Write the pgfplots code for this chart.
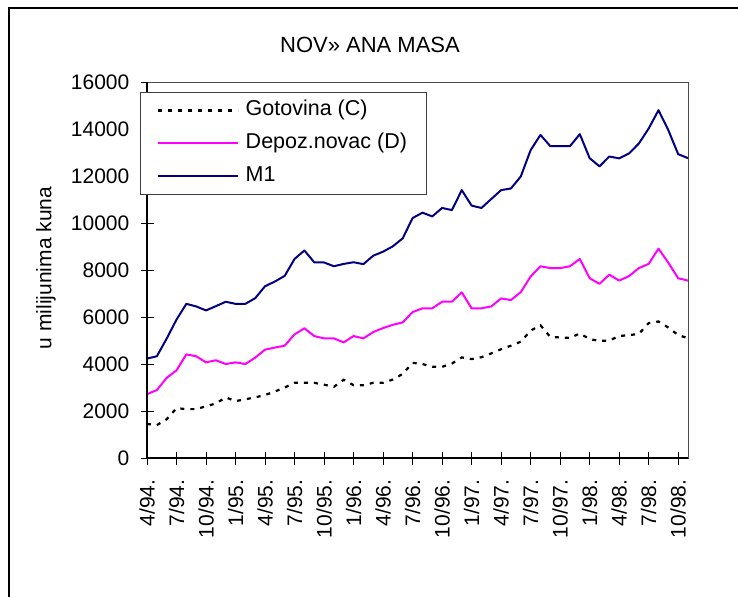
\documentclass[border=0pt]{standalone}
\usepackage{fontspec}
\setmainfont{Liberation Sans}
\usepackage{pgfplots}
\usepackage{pgfplotstable}
\pgfplotsset{compat=1.18}
\definecolor{navyM}{RGB}{0,0,128}
\definecolor{magD}{RGB}{255,0,255}
\pgfplotstableread{
m C D M1
0 1450 2720 4230
1 1400 2890 4330
2 1650 3410 5080
3 2120 3730 5890
4 2080 4410 6560
5 2080 4330 6450
6 2200 4070 6280
7 2320 4160 6460
8 2580 4000 6650
9 2420 4070 6560
10 2500 4000 6560
11 2580 4270 6800
12 2680 4610 7310
13 2830 4700 7510
14 3000 4780 7750
15 3200 5260 8470
16 3200 5520 8830
17 3200 5190 8330
18 3120 5090 8320
19 3030 5090 8160
20 3330 4920 8260
21 3100 5190 8330
22 3100 5090 8250
23 3200 5360 8610
24 3200 5530 8780
25 3340 5670 9010
26 3580 5770 9350
27 4050 6210 10210
28 4000 6370 10440
29 3880 6370 10280
30 3880 6650 10640
31 4020 6650 10550
32 4280 7050 11400
33 4210 6370 10740
34 4290 6370 10640
35 4450 6450 11020
36 4630 6790 11400
37 4780 6720 11470
38 4950 7060 11980
39 5420 7720 13100
40 5650 8160 13750
41 5150 8080 13270
42 5130 8080 13270
43 5110 8160 13270
44 5300 8470 13780
45 5060 7650 12760
46 4980 7410 12410
47 5000 7800 12830
48 5190 7550 12750
49 5230 7740 12960
50 5280 8080 13380
51 5740 8260 14020
52 5810 8910 14800
53 5550 8310 13950
54 5230 7650 12930
55 5100 7550 12760
}\money
\begin{document}
\fontsize{21bp}{25bp}\selectfont
\begin{tikzpicture}[x=1bp,y=1bp]
\useasboundingbox (0,0) rectangle (738,-597);
\draw[line width=1.5bp] (9,-597) -- (9,-8) -- (738,-8);
\node[font=\fontsize{22bp}{26bp}\selectfont] at (370,-45) {NOV» ANA MASA};
\node[rotate=90] at (46,-268) {u milijunima kuna};
\begin{axis}[
  at={(147bp,-458bp)}, anchor=south west,
  scale only axis, width=541bp, height=376bp,
  xmin=0, xmax=55, ymin=0, ymax=16000,
  xtick={0,3,...,54},
  xticklabels={4/94.,7/94.,10/94.,1/95.,4/95.,7/95.,10/95.,1/96.,4/96.,7/96.,10/96.,1/97.,4/97.,7/97.,10/97.,1/98.,4/98.,7/98.,10/98.},
  ytick={0,2000,...,16000},
  scaled y ticks=false,
  /pgf/number format/1000 sep={},
  /pgf/number format/assume math mode=true,
  tick pos=left,
  tick align=center,
  major tick length=13bp,
  tick style={black, line width=1bp},
  axis line style={black!70, line width=0.8bp},
  xticklabel style={rotate=90, anchor=east},
  xticklabel shift=8bp,
  yticklabel style={anchor=east, xshift=-4bp},
  legend style={at={(-0.0129,0.9735)}, anchor=north west, draw=black!75, line width=1bp, fill=white,
    inner xsep=16bp, inner ysep=5bp, row sep=7bp, column sep=4bp,
    font=\fontsize{21.5bp}{25bp}\selectfont,
    nodes={text height=15bp, text depth=5bp, inner sep=3bp, anchor=west}},
  legend cell align=left,
  legend image code/.code={\draw[#1] (0bp,0bp) -- (80bp,0bp);},
  after end axis/.code={\draw[black, line width=1.6bp] (rel axis cs:0,1) -- (rel axis cs:0,0) -- (rel axis cs:1,0);},
]
\addplot[black, line width=2.2bp, dash pattern=on 4bp off 6bp] table[x=m, y=C] {\money};
\addlegendentry{Gotovina (C)}
\addplot[magD, line width=2bp, line join=round] table[x=m, y=D] {\money};
\addlegendentry{Depoz.novac (D)}
\addplot[navyM, line width=2bp, line join=round] table[x=m, y=M1] {\money};
\addlegendentry{M1}
\end{axis}
\end{tikzpicture}
\end{document}
